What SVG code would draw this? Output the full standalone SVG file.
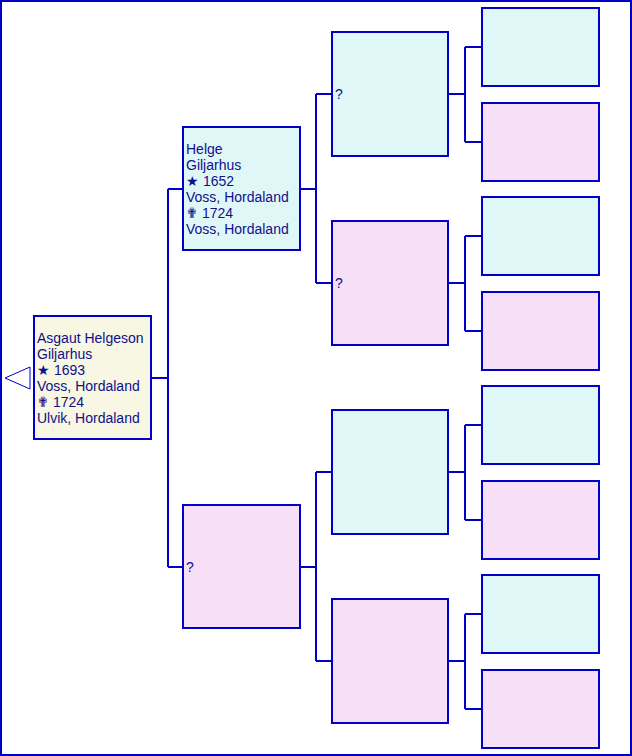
<svg xmlns="http://www.w3.org/2000/svg" width="632" height="756" viewBox="0 0 632 756">
<style>
.frame{fill:#fff;stroke:#0000c8;stroke-width:2}
.box{stroke:#0000c8;stroke-width:2}
.m{fill:#e0f7f8}
.f{fill:#f7e0f7}
.r{fill:#f7f7e3}
.c{fill:none;stroke:#0000c8;stroke-width:2}
text{font-family:"Liberation Sans",Arial,sans-serif;font-size:14px;fill:#10108a}
</style>
<rect class="frame" x="1" y="1" width="630" height="754" shape-rendering="crispEdges"/>
<polygon points="5,378 30,367 30,389" fill="#fff" stroke="#0000c8" stroke-width="1"/>
<g id="connectors" shape-rendering="crispEdges">
<path class="c" d="M152,378H168M168,189V567M168,189H183M168,567H183"/>
<path class="c" d="M301,189H316M316,94V283M316,94H332M316,283H332"/>
<path class="c" d="M301,567H316M316,472V661M316,472H332M316,661H332"/>
<path class="c" d="M449,94H465M465,47V142M465,47H482M465,142H482"/>
<path class="c" d="M449,283H465M465,236V331M465,236H482M465,331H482"/>
<path class="c" d="M449,472H465M465,425V520M465,425H482M465,520H482"/>
<path class="c" d="M449,661H465M465,614V709M465,614H482M465,709H482"/>
</g>
<g id="n1"><rect class="box r" x="34" y="316" width="117" height="123" shape-rendering="crispEdges"/>
<text x="37" y="343">Asgaut Helgeson</text><text x="37" y="359">Giljarhus</text><text x="37" y="375">★ 1693</text><text x="37" y="391">Voss, Hordaland</text><text x="37" y="407">✟ 1724</text><text x="37" y="423">Ulvik, Hordaland</text></g>
<g id="n2"><rect class="box m" x="183" y="127" width="117" height="123" shape-rendering="crispEdges"/>
<text x="186" y="154">Helge</text><text x="186" y="170">Giljarhus</text><text x="186" y="186">★ 1652</text><text x="186" y="202">Voss, Hordaland</text><text x="186" y="218">✟ 1724</text><text x="186" y="234">Voss, Hordaland</text></g>
<g id="n3"><rect class="box f" x="183" y="505" width="117" height="123" shape-rendering="crispEdges"/><text x="186" y="572">?</text></g>
<g id="n4"><rect class="box m" x="332" y="32" width="116" height="124" shape-rendering="crispEdges"/><text x="335" y="99">?</text></g>
<g id="n5"><rect class="box f" x="332" y="221" width="116" height="124" shape-rendering="crispEdges"/><text x="335" y="288">?</text></g>
<g id="n6"><rect class="box m" x="332" y="410" width="116" height="124" shape-rendering="crispEdges"/></g>
<g id="n7"><rect class="box f" x="332" y="599" width="116" height="124" shape-rendering="crispEdges"/></g>
<g id="n8"><rect class="box m" x="482" y="8" width="117" height="78" shape-rendering="crispEdges"/></g>
<g id="n9"><rect class="box f" x="482" y="103" width="117" height="78" shape-rendering="crispEdges"/></g>
<g id="n10"><rect class="box m" x="482" y="197" width="117" height="78" shape-rendering="crispEdges"/></g>
<g id="n11"><rect class="box f" x="482" y="292" width="117" height="78" shape-rendering="crispEdges"/></g>
<g id="n12"><rect class="box m" x="482" y="386" width="117" height="78" shape-rendering="crispEdges"/></g>
<g id="n13"><rect class="box f" x="482" y="481" width="117" height="78" shape-rendering="crispEdges"/></g>
<g id="n14"><rect class="box m" x="482" y="575" width="117" height="78" shape-rendering="crispEdges"/></g>
<g id="n15"><rect class="box f" x="482" y="670" width="117" height="78" shape-rendering="crispEdges"/></g>
</svg>
